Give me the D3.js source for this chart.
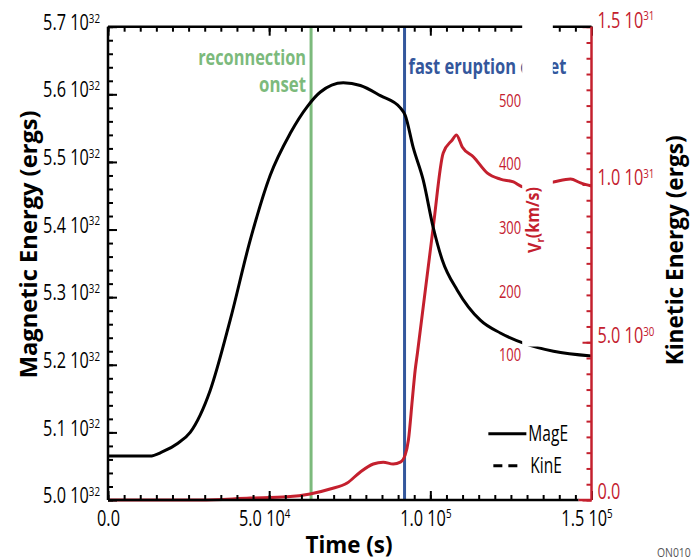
<!DOCTYPE html>
<html><head><meta charset="utf-8">
<script src="https://cdn.jsdelivr.net/npm/d3@7"></script>
<style>
body{margin:0;background:#fff}
svg{display:block}
text{font-family:"Open Sans","Noto Sans",sans-serif}
</style></head><body>
<svg id="chart" width="691" height="560"></svg>
<script>
// ---- data ----
const magTime   = [0, 13000, 16800, 21700, 25500, 31700, 37900, 44100, 50300, 56500, 62000, 65800, 73000, 78300, 84500, 90700, 92200, 94700, 97800, 100900, 103700, 108400, 115500, 121700, 128900, 138200, 150000];
const magEnergy = [5.065e32, 5.065e32, 5.071e32, 5.084e32, 5.100e32, 5.162e32, 5.266e32, 5.384e32, 5.480e32, 5.542e32, 5.583e32, 5.603e32, 5.617e32, 5.613e32, 5.598e32, 5.580e32, 5.569e32, 5.521e32, 5.473e32, 5.403e32, 5.355e32, 5.310e32, 5.266e32, 5.247e32, 5.232e32, 5.220e32, 5.213e32];
const kinTime   = [0, 28600, 44100, 55600, 62700, 68900, 74200, 78300, 82300, 85400, 88500, 90700, 92200, 93200, 94400, 95300, 96000, 100900, 104000, 106800, 108100, 109900, 113400, 117700, 121700, 125800, 128900, 138200, 143500, 146600, 150000];
const kinEnergy = [0, 0, 0.06e30, 0.10e30, 0.19e30, 0.35e30, 0.54e30, 0.89e30, 1.14e30, 1.20e30, 1.14e30, 1.20e30, 1.43e30, 1.90e30, 3.17e30, 4.12e30, 4.66e30, 8.65e30, 11.0e30, 11.41e30, 11.57e30, 11.19e30, 10.87e30, 10.36e30, 10.17e30, 10.08e30, 9.92e30, 10.08e30, 10.17e30, 10.05e30, 9.95e30];
const xTicks    = [0, 5e4, 1e5, 1.5e5];
const magTicks  = [5.0e32, 5.1e32, 5.2e32, 5.3e32, 5.4e32, 5.5e32, 5.6e32, 5.7e32];
const kinTicks  = [0, 5e30, 1e31, 1.5e31];
const vrTicks   = [100, 200, 300, 400, 500];
const eventTimes  = [63000, 92000];
const eventLabels = [["reconnection", "onset"], ["fast eruption onset"]];
const legendLabels = ["MagE", "KinE"];

// ---- layout ----
const W = 691, H = 560;
const m = {left: 108, right: 99.5, top: 26.7, bottom: 60};
const iw = W - m.left - m.right, ih = H - m.top - m.bottom;
const RED = "#c4202e", GREEN = "#7cba7c", BLUE = "#34579c";
const CK = 0.74;
const svg = d3.select("#chart");
const g = svg.append("g").attr("transform", `translate(${m.left},${m.top})`);

const x = d3.scaleLinear().domain([0, 1.5e5]).range([0, iw]);
const yM = d3.scaleLinear().domain([5.0e32, 5.7e32]).range([ih, 0]);
const yK = d3.scaleLinear().domain([0, 1.5e31]).range([ih, 0]);
const yV = d3.scaleLinear().domain([100, 500]).range([ih - 145, ih - 399.7]);

// horizontally condense text about its anchor (mimics a condensed typeface)
function condense(sel, k) {
  sel.each(function() {
    const t = d3.select(this);
    const x0 = +t.attr("x") || 0;
    const tr = t.attr("transform") || "";
    t.attr("transform", `${tr} translate(${x0},0) scale(${k},1) translate(${-x0},0)`);
  });
}
function fitWidth(sel, w) {
  sel.each(function() {
    const len = this.getComputedTextLength();
    condense(d3.select(this), w / len);
  });
}

function sci(v) {
  if (v === 0) return {m: "0.0", e: null};
  const e = Math.floor(Math.log10(v) + 1e-9);
  return {m: (v / Math.pow(10, e)).toFixed(1), e: e};
}
function fillSci(sel) {
  sel.each(function(d) {
    const t = d3.select(this); const s = sci(d);
    t.text(null);
    if (s.e === null) { t.append("tspan").text(s.m); return; }
    t.append("tspan").text(s.m + " 10");
    t.append("tspan").attr("dy", "-0.55em").attr("font-size", "0.6em").text(s.e);
  });
}

// ---- lines ----
const magLine = d3.line().x((d, i) => x(magTime[i])).y(d => yM(d)).curve(d3.curveMonotoneX);
const kinLine = d3.line().x((d, i) => x(kinTime[i])).y(d => yK(d)).curve(d3.curveMonotoneX);

g.selectAll(".ev").data(eventTimes).join("line")
  .attr("x1", d => x(d)).attr("x2", d => x(d)).attr("y1", 0).attr("y2", ih)
  .attr("stroke", (d, i) => i === 0 ? GREEN : BLUE).attr("stroke-width", 3);

g.append("path").datum(kinEnergy).attr("d", kinLine).attr("fill", "none")
  .attr("stroke", RED).attr("stroke-width", 3);
g.append("path").datum(magEnergy).attr("d", magLine).attr("fill", "none")
  .attr("stroke", "#000").attr("stroke-width", 3);

// event labels
eventLabels[0].forEach((s, i) => {
  g.append("text").attr("font-weight", "bold").attr("font-size", 21).attr("fill", GREEN)
    .attr("text-anchor", "end").attr("x", x(eventTimes[0]) - 5).attr("y", 38 + i * 27).text(s)
    .call(fitWidth, i === 0 ? 108 : 47);
});
g.append("text").attr("font-weight", "bold").attr("font-size", 22).attr("fill", BLUE)
  .attr("x", x(eventTimes[1]) + 4).attr("y", 47).text(eventLabels[1][0]).call(fitWidth, 158);

// ---- axes ----
const magMinor = d3.range(5.0e32, 5.7e32 + 1e28, 0.02e32);
const xMinor = d3.range(0, 1.5e5 + 1, 5000);
const kinMinor = d3.range(0, 1.5e31 + 1e26, 5e29);

function styleAxis(sel, color) {
  sel.select(".domain").remove();
  sel.selectAll("line").attr("stroke", color).attr("stroke-width", 2);
  sel.selectAll("text").attr("fill", color).attr("font-size", 22).attr("font-family", null);
}
// left
g.append("g").call(d3.axisLeft(yM).tickValues(magMinor).tickSize(-5).tickFormat("")).call(s => styleAxis(s, "#000"));
const la = g.append("g").call(d3.axisLeft(yM).tickValues(magTicks).tickSize(-9).tickPadding(8)).call(s => styleAxis(s, "#000"));
la.selectAll("text").attr("dy", "0.12em").call(fillSci).call(condense, CK);
// bottom
g.append("g").attr("transform", `translate(0,${ih})`).call(d3.axisBottom(x).tickValues(xMinor).tickSize(-5).tickFormat("")).call(s => styleAxis(s, "#000"));
const ba = g.append("g").attr("transform", `translate(0,${ih})`).call(d3.axisBottom(x).tickValues(xTicks).tickSize(-9).tickPadding(10)).call(s => styleAxis(s, "#000"));
ba.selectAll("text").attr("x", d => d === 0 ? 0 : -5).call(fillSci).call(condense, CK);
// top
g.append("g").call(d3.axisTop(x).tickValues(xMinor).tickSize(-5).tickFormat("")).call(s => styleAxis(s, "#000"));
g.append("g").call(d3.axisTop(x).tickValues(xTicks).tickSize(-9).tickFormat("")).call(s => styleAxis(s, "#000"));
// right
g.append("g").attr("transform", `translate(${iw},0)`).call(d3.axisRight(yK).tickValues(kinMinor).tickSize(-5).tickFormat("")).call(s => styleAxis(s, RED));
const ra = g.append("g").attr("transform", `translate(${iw},0)`).call(d3.axisRight(yK).tickValues(kinTicks).tickSize(-9).tickPadding(6)).call(s => styleAxis(s, RED));
ra.selectAll("text").attr("dy", d => d === 0 ? "-0.05em" : "0.02em").call(fillSci).call(condense, CK);

// frame
g.append("line").attr("x1", 0).attr("x2", iw).attr("y1", 0).attr("y2", 0).attr("stroke", "#000").attr("stroke-width", 2.5);
g.append("line").attr("x1", 0).attr("x2", x(1.46e5)).attr("y1", ih).attr("y2", ih).attr("stroke", "#000").attr("stroke-width", 2.5);
g.append("line").attr("x1", x(1.46e5)).attr("x2", iw).attr("y1", ih).attr("y2", ih).attr("stroke", RED).attr("stroke-width", 2.5);
g.append("line").attr("x1", 0).attr("x2", 0).attr("y1", 0).attr("y2", ih).attr("stroke", "#000").attr("stroke-width", 2.5);
g.append("line").attr("x1", iw).attr("x2", iw).attr("y1", 0).attr("y2", ih).attr("stroke", RED).attr("stroke-width", 2.5);

// white occlusion left by the pasted velocity inset
g.append("rect").attr("x", x(1.285e5)).attr("y", -10).attr("width", x(1.38e5) - x(1.285e5)).attr("height", yM(5.227e32) + 10).attr("fill", "#fff");

// inset Vr axis labels
g.selectAll(".vr").data(vrTicks).join("text")
  .attr("x", x(1.285e5) - 1).attr("y", d => yV(d)).attr("dy", "0.35em")
  .attr("text-anchor", "end").attr("fill", RED).attr("font-size", 18).text(d => d).call(condense, 0.72);
g.append("text").attr("transform", `translate(${x(1.285e5) + 19},${yV(312)}) rotate(-90)`)
  .attr("text-anchor", "middle").attr("fill", RED).attr("font-size", 18).attr("font-weight", "bold")
  .call(t => { t.append("tspan").text("V"); t.append("tspan").attr("dy", "0.3em").attr("font-size", "0.6em").text("r"); t.append("tspan").attr("dy", "-0.3em").text("(km/s)"); })
  .call(fitWidth, 66);

// legend
const lg = g.append("g").attr("transform", `translate(${x(1.18e5)},${yM(5.098e32)})`);
lg.append("line").attr("x1", 0).attr("x2", 38).attr("y1", 0).attr("y2", 0).attr("stroke", "#000").attr("stroke-width", 3);
lg.append("line").attr("x1", 5).attr("x2", 31).attr("y1", 32).attr("y2", 32).attr("stroke", "#000").attr("stroke-width", 3).attr("stroke-dasharray", "9,6");
legendLabels.forEach((s, i) => lg.append("text").attr("x", 40 + i * 2).attr("y", i * 32).attr("dy", "0.35em").attr("font-size", 21).text(s).call(condense, CK));

// axis titles
svg.append("text").attr("transform", `translate(37,${m.top + ih / 2 - 19}) rotate(-90)`).attr("text-anchor", "middle")
  .attr("font-weight", "bold").attr("font-size", 23).text("Magnetic Energy (ergs)").call(fitWidth, 268);
svg.append("text").attr("transform", `translate(683,${m.top + ih / 2 - 13}) rotate(-90)`).attr("text-anchor", "middle")
  .attr("font-weight", "bold").attr("font-size", 23).text("Kinetic Energy (ergs)").call(fitWidth, 230);
svg.append("text").attr("x", 349).attr("y", 553).attr("text-anchor", "middle")
  .attr("font-weight", "bold").attr("font-size", 24).text("Time (s)").call(fitWidth, 87);
svg.append("text").attr("x", 657).attr("y", 557).attr("font-size", 13).attr("fill", "#555").text("ON010").call(condense, 0.8);
</script></body></html>
